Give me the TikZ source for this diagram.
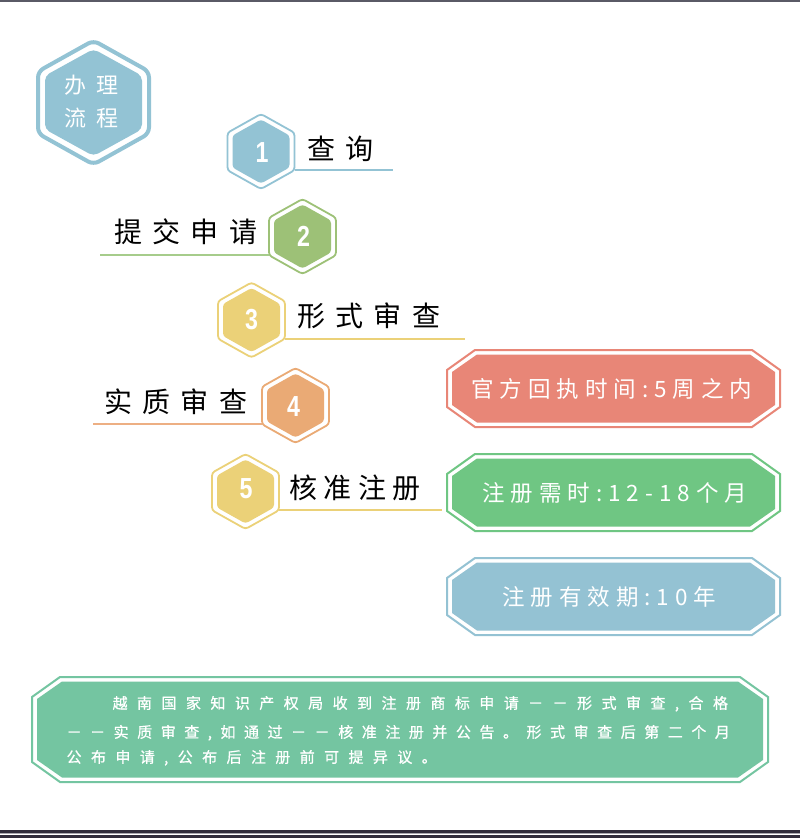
\documentclass[tikz,border=0pt]{standalone}
\usepackage{fontspec}
\newfontfamily\cjk{Noto Sans CJK SC}
\newfontfamily\cjkb[FakeBold=0.8]{Noto Sans CJK SC}
\newfontfamily\numfont[FakeStretch=0.8]{Liberation Sans}
\ExplSyntaxOn
\NewDocumentCommand\spaced{mm}{\tl_map_inline:nn{#2}{##1\kern#1\relax}\unkern}
\ExplSyntaxOff
\definecolor{cblue}{HTML}{93C3D4}
\definecolor{cgreen}{HTML}{9DC177}
\definecolor{cgreenl}{HTML}{A6CC8B}
\definecolor{cyellow}{HTML}{EBD178}
\definecolor{corange}{HTML}{EAAA75}
\definecolor{corangel}{HTML}{EDAF83}
\definecolor{cred}{HTML}{E88677}
\definecolor{cgreenb}{HTML}{6FC683}
\definecolor{cblueb}{HTML}{94C2D3}
\definecolor{cteal}{HTML}{74C5A1}
\definecolor{cdark}{HTML}{2F2C3B}
\definecolor{cmid}{HTML}{A8A8B0}
\definecolor{ctop}{HTML}{5A5A66}
% hexagon path: cx, cy, half width, half height
\newcommand\hexpath[4]{({#1},{#2-#4}) -- ({#1+#3},{#2-#4/2}) -- ({#1+#3},{#2+#4/2}) -- ({#1},{#2+#4}) -- ({#1-#3},{#2+#4/2}) -- ({#1-#3},{#2-#4/2}) -- cycle}
% chamfered box path: x1,y1,x2,y2,dx,dy
\newcommand\champath[6]{({#1},{#2+#6}) -- ({#1+#5},{#2}) -- ({#3-#5},{#2}) -- ({#3},{#2+#6}) -- ({#3},{#4-#6}) -- ({#3-#5},{#4}) -- ({#1+#5},{#4}) -- ({#1},{#4-#6}) -- cycle}
\newcommand\stephex[3]{%
  \draw[#3, line width=1.8pt, rounded corners=3pt] \hexpath{#1}{#2}{33.5}{37.5};
  \fill[#3, rounded corners=3pt] \hexpath{#1}{#2}{28.5}{32};
}
\newcommand\chambox[5]{%
  \draw[#5, line width=2pt] \champath{#1}{#2}{#3}{#4}{28}{20};
  \fill[#5] \champath{#1+5}{#2+4.5}{#3-5}{#4-4.5}{25}{17.5};
}
\tikzset{
  steplab/.style={anchor=base west, inner sep=0pt, text=black, font=\cjk\fontsize{28}{30}\selectfont},
  numlab/.style={inner sep=0pt, text=white, font=\numfont\bfseries\fontsize{29}{30}\selectfont},
  headlab/.style={anchor=base west, inner sep=0pt, text=white, font=\cjk\fontsize{22}{24}\selectfont},
  boxlab/.style={anchor=base west, inner sep=0pt, text=white, font=\cjk\fontsize{22.5}{24}\selectfont},
  paralab/.style={anchor=base west, inner sep=0pt, text=white, font=\cjkb\fontsize{15}{17}\selectfont},
  stepline/.style={line width=1.8pt}
}
\begin{document}
\begin{tikzpicture}[x=1pt,y=-1pt]
\useasboundingbox (0,0) rectangle (800,838);
\fill[white] (0,0) rectangle (800,838);
% top and bottom rules
\fill[ctop] (0,0) rectangle (800,1.5);
\fill[cdark] (0,830) rectangle (800,832.5);
\fill[cmid] (0,833) rectangle (800,834.3);
\fill[cdark] (0,835) rectangle (800,838);

% header hexagon
\draw[cblue, line width=4pt, rounded corners=6pt] \hexpath{93.5}{102.5}{55.5}{62};
\fill[cblue, rounded corners=5pt] \hexpath{93.5}{102.5}{48.5}{53.5};
\node[headlab] (head1) at (64,93.4) {\spaced{10pt}{办理}};
\node[headlab] (head2) at (64,126) {\spaced{10pt}{流程}};

% step hexagons
\stephex{261}{151.5}{cblue}
\stephex{302.5}{236.5}{cgreen}
\stephex{251.5}{320}{cyellow}
\stephex{295.5}{405.5}{corange}
\stephex{245.5}{491.5}{cyellow}

\node[numlab] (n1) at (262,152.5) {1};
\node[numlab] (n2) at (303.5,236) {2};
\node[numlab] (n3) at (251.5,320) {3};
\node[numlab] (n4) at (293.5,407) {4};
\node[numlab] (n5) at (246,489) {5};

% step lines
\coordinate (v1) at (294.5,170.25);
\coordinate (e1) at (393,170.25);
\coordinate (v2) at (269,255.25);
\coordinate (e2) at (100,255.25);
\coordinate (v3) at (285,338.75);
\coordinate (e3) at (465,338.75);
\coordinate (v4) at (262,424.25);
\coordinate (e4) at (93,424.25);
\coordinate (v5) at (279,510.25);
\coordinate (e5) at (442,510.25);
\draw[stepline, cblue] (v1) -- (e1);
\draw[stepline, cgreenl] (e2) -- (v2);
\draw[stepline, cyellow] (v3) -- (e3);
\draw[stepline, corangel] (e4) -- (v4);
\draw[stepline, cyellow] (v5) -- (e5);

% step labels
\node[steplab] (s1) at (307,159) {\spaced{10.5pt}{查询}};
\node[steplab] (s2) at (114,242.6) {\spaced{10.3pt}{提交申请}};
\node[steplab] (s3) at (297,326.6) {\spaced{10.3pt}{形式审查}};
\node[steplab] (s4) at (104,412) {\spaced{10.3pt}{实质审查}};
\node[steplab] (s5) at (289,498) {\spaced{6.5pt}{核准注册}};

% right info boxes
\chambox{447}{350}{780}{427}{cred}
\chambox{447}{454}{780}{531}{cgreenb}
\chambox{447}{558}{780}{635}{cblueb}
\node[boxlab] (b1) at (471,397) {\spaced{6pt}{官方回执时间:5周之内}};
\node[boxlab] (b2) at (482,501) {\spaced{6pt}{注册需时:12-18个月}};
\node[boxlab] (b3) at (502,605.6) {\spaced{6pt}{注册有效期:10年}};

% bottom paragraph box
\chambox{32}{677}{768}{782}{cteal}
\node[paralab] (p1) at (112.4,708.7) {\spaced{9.45pt}{越南国家知识产权局收到注册商标申请－－形式审查,合格}};
\node[paralab] (p2) at (66.4,737.7) {\spaced{8.54pt}{－－实质审查,如通过－－核准注册并公告。形式审查后第二个月}};
\node[paralab] (p3) at (66.4,762.7) {\spaced{9.4pt}{公布申请,公布后注册前可提异议。}};
\end{tikzpicture}
\end{document}
